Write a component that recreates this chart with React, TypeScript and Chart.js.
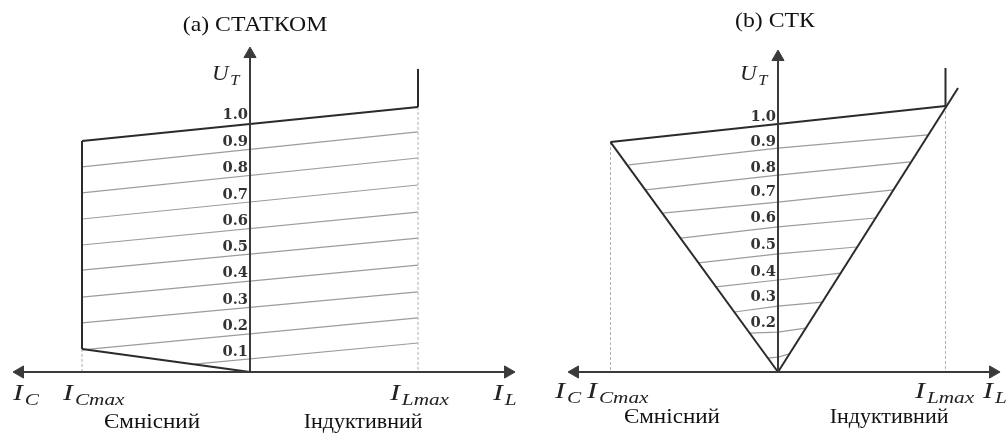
import React, { useEffect, useRef } from "react";
import { Chart, registerables } from "chart.js";

Chart.register(...registerables);

// ---------- Panel (a) СТАТКОМ ----------
const aTickLabels = ["1.0", "0.9", "0.8", "0.7", "0.6", "0.5", "0.4", "0.3", "0.2", "0.1"];
const aTickU = [1.036, 0.927, 0.823, 0.714, 0.609, 0.504, 0.399, 0.29, 0.185, 0.081];
const aTopLine = [{ x: -1, y: 0.931 }, { x: 1, y: 1.069 }];
const aUpperStub = [{ x: 1, y: 1.069 }, { x: 1, y: 1.222 }];
const aLeftEdge = [{ x: -1, y: 0.931 }, { x: -1, y: 0.093 }];
const aLowEdge = [{ x: -1, y: 0.093 }, { x: 0, y: 0 }];
const aDashLeft = [{ x: -1, y: 0.093 }, { x: -1, y: 0 }];
const aDashRight = [{ x: 1, y: 1.069 }, { x: 1, y: 0 }];
const aGridStartI = [-1, -1, -1, -1, -1, -1, -1, -1, -0.33];
const aGridStartU = [0.827, 0.722, 0.617, 0.512, 0.411, 0.302, 0.198, 0.089, 0.032];
const aGridEndI = [1, 1, 1, 1, 1, 1, 1, 1, 1];
const aGridEndU = [0.968, 0.863, 0.754, 0.645, 0.54, 0.431, 0.323, 0.218, 0.117];
const aXAxis = [{ x: -1.369, y: 0 }, { x: 1.536, y: 0 }];
const aYAxis = [{ x: 0, y: 0 }, { x: 0, y: 1.282 }];

// ---------- Panel (b) СТК ----------
const bTickLabels = ["1.0", "0.9", "0.8", "0.7", "0.6", "0.5", "0.4", "0.3", "0.2"];
const bTickU = [1.028, 0.927, 0.823, 0.726, 0.621, 0.512, 0.403, 0.302, 0.198];
const bTopLine = [{ x: -1, y: 0.927 }, { x: 1, y: 1.073 }];
const bUpperStub = [{ x: 1, y: 1.073 }, { x: 1, y: 1.226 }];
const bVLeft = [{ x: -1, y: 0.927 }, { x: 0, y: 0 }];
const bVRight = [{ x: 0, y: 0 }, { x: 1.075, y: 1.145 }];
const bDashLeft = [{ x: -1, y: 0.927 }, { x: -1, y: 0 }];
const bDashRight = [{ x: 1, y: 1.073 }, { x: 1, y: 0 }];
const bGridLeftI = [-0.89, -0.79, -0.69, -0.58, -0.475, -0.37, -0.26, -0.17, -0.06];
const bGridLeftU = [0.835, 0.734, 0.641, 0.54, 0.44, 0.343, 0.242, 0.157, 0.056];
const bGridAxisU = [0.903, 0.794, 0.685, 0.585, 0.476, 0.371, 0.266, 0.161, 0.06];
const bGridRightI = [0.895, 0.79, 0.69, 0.58, 0.47, 0.375, 0.265, 0.165, 0.068];
const bGridRightU = [0.956, 0.847, 0.734, 0.621, 0.504, 0.399, 0.282, 0.177, 0.073];
const bXAxis = [{ x: -1.212, y: 0 }, { x: 1.284, y: 0 }];
const bYAxis = [{ x: 0, y: 0 }, { x: 0, y: 1.27 }];

const DARK = "#2b2b2b";
const AXIS = "#3a3a3a";
const GRID = "#9c9c9c";
const DASH = "#b0b0b0";
const SERIF = "'Liberation Serif', 'DejaVu Serif', serif";

type Item =
  | { kind: "text"; text: string; x: number; y: number; font: string; align: CanvasTextAlign; sx?: number; color?: string }
  | { kind: "math"; main: string; sub: string; x: number; y: number; size: number; subSize: number; sx?: number };

function line(data: any[], color: string, width: number, dash: number[] = []) {
  return {
    data,
    showLine: true,
    borderColor: color,
    borderWidth: width,
    borderDash: dash,
    pointRadius: 0,
    fill: false,
    tension: 0,
  };
}

function arrowAxis(data: any[], rotations: number[], radii: number[]) {
  return {
    data,
    showLine: true,
    borderColor: AXIS,
    borderWidth: 2,
    pointStyle: "triangle",
    pointRadius: radii,
    pointRotation: rotations,
    pointBackgroundColor: AXIS,
    pointBorderColor: AXIS,
    pointBorderWidth: 1,
    fill: false,
  };
}

function textPlugin(items: Item[]) {
  return {
    id: "panelText",
    afterDatasetsDraw(chart: any) {
      const { ctx } = chart;
      const xs = chart.scales.x;
      const ys = chart.scales.y;
      ctx.save();
      for (const it of items) {
        const px = xs.getPixelForValue(it.x);
        const py = ys.getPixelForValue(it.y);
        if (it.kind === "text") {
          ctx.font = it.font;
          ctx.fillStyle = it.color || "#111";
          ctx.textAlign = it.align;
          ctx.textBaseline = "middle";
          ctx.save();
          ctx.translate(px, py);
          ctx.scale(it.sx || 1, 1);
          ctx.fillText(it.text, 0, 0);
          ctx.restore();
        } else {
          const sx = it.sx || 1;
          ctx.fillStyle = "#222";
          ctx.textAlign = "left";
          ctx.textBaseline = "alphabetic";
          ctx.save();
          ctx.translate(px, py);
          ctx.scale(sx, 1);
          ctx.font = `italic ${it.size}px ${SERIF}`;
          ctx.fillText(it.main, 0, 0);
          const w = ctx.measureText(it.main).width;
          ctx.font = `italic ${it.subSize}px ${SERIF}`;
          ctx.fillText(it.sub, w + 1.5, it.size * 0.22);
          ctx.restore();
        }
      }
      ctx.restore();
    },
  };
}

function tickItems(labels: string[], us: number[]): Item[] {
  return labels.map((t, i) => ({
    kind: "text" as const,
    text: t,
    x: -0.012,
    y: us[i],
    font: `bold 14px 'DejaVu Serif', serif`,
    align: "right" as CanvasTextAlign,
    sx: 1.05,
    color: "#333",
  }));
}

const aDatasets = [
  arrowAxis(aXAxis, [-90, 90], [7, 7]),
  arrowAxis(aYAxis, [0, 0], [0, 7]),
  line(aTopLine, DARK, 2),
  line(aUpperStub, DARK, 2),
  line(aLeftEdge, DARK, 2),
  line(aLowEdge, DARK, 2),
  line(aDashLeft, DASH, 1, [3, 2]),
  line(aDashRight, DASH, 1, [3, 2]),
  ...aGridStartI.map((_, i) =>
    line(
      [
        { x: aGridStartI[i], y: aGridStartU[i] },
        { x: aGridEndI[i], y: aGridEndU[i] },
      ],
      GRID,
      1.2
    )
  ),
];

const bDatasets = [
  arrowAxis(bXAxis, [-90, 90], [7, 7]),
  arrowAxis(bYAxis, [0, 0], [0, 7]),
  line(bTopLine, DARK, 2),
  line(bUpperStub, DARK, 2),
  line(bVLeft, DARK, 2),
  line(bVRight, DARK, 2),
  line(bDashLeft, DASH, 1, [3, 2]),
  line(bDashRight, DASH, 1, [3, 2]),
  ...bGridLeftI.map((_, i) =>
    line(
      [
        { x: bGridLeftI[i], y: bGridLeftU[i] },
        { x: 0, y: bGridAxisU[i] },
        { x: bGridRightI[i], y: bGridRightU[i] },
      ],
      GRID,
      1.2
    )
  ),
];

const aItems: Item[] = [
  { kind: "text", text: "(a) СТАТКОМ", x: 0.03, y: 1.399, font: `22px ${SERIF}`, align: "center", sx: 1.08 },
  { kind: "math", main: "U", sub: "T", x: -0.226, y: 1.177, size: 21, subSize: 15, sx: 1.1 },
  { kind: "math", main: "I", sub: "C", x: -1.411, y: -0.113, size: 24, subSize: 17, sx: 1.25 },
  { kind: "math", main: "I", sub: "Cmax", x: -1.113, y: -0.113, size: 24, subSize: 17, sx: 1.25 },
  { kind: "math", main: "I", sub: "Lmax", x: 0.833, y: -0.113, size: 24, subSize: 17, sx: 1.25 },
  { kind: "math", main: "I", sub: "L", x: 1.446, y: -0.113, size: 24, subSize: 17, sx: 1.25 },
  { kind: "text", text: "Ємнісний", x: -0.583, y: -0.202, font: `22px ${SERIF}`, align: "center", sx: 1.05 },
  { kind: "text", text: "Індуктивний", x: 0.673, y: -0.202, font: `22px ${SERIF}`, align: "center", sx: 1.0 },
  ...tickItems(aTickLabels, aTickU),
];

const bItems: Item[] = [
  { kind: "text", text: "(b) СТК", x: -0.018, y: 1.413, font: `22px ${SERIF}`, align: "center", sx: 1.08 },
  { kind: "math", main: "U", sub: "T", x: -0.227, y: 1.177, size: 21, subSize: 15, sx: 1.1 },
  { kind: "math", main: "I", sub: "C", x: -1.331, y: -0.105, size: 24, subSize: 17, sx: 1.25 },
  { kind: "math", main: "I", sub: "Cmax", x: -1.14, y: -0.105, size: 24, subSize: 17, sx: 1.25 },
  { kind: "math", main: "I", sub: "Lmax", x: 0.818, y: -0.105, size: 24, subSize: 17, sx: 1.25 },
  { kind: "math", main: "I", sub: "L", x: 1.224, y: -0.105, size: 24, subSize: 17, sx: 1.25 },
  { kind: "text", text: "Ємнісний", x: -0.633, y: -0.181, font: `22px ${SERIF}`, align: "center", sx: 1.05 },
  { kind: "text", text: "Індуктивний", x: 0.663, y: -0.181, font: `22px ${SERIF}`, align: "center", sx: 1.0 },
  ...tickItems(bTickLabels, bTickU),
];

function Panel(props: {
  datasets: any[];
  items: Item[];
  left: number;
  width: number;
  xMin: number;
  xMax: number;
}) {
  const ref = useRef<HTMLCanvasElement>(null);
  useEffect(() => {
    const chart = new Chart(ref.current as HTMLCanvasElement, {
      type: "scatter",
      data: { datasets: props.datasets as any },
      options: {
        animation: false,
        responsive: false,
        devicePixelRatio: 1,
        events: [],
        layout: { padding: 0, autoPadding: false },
        plugins: { legend: { display: false }, tooltip: { enabled: false } },
        scales: {
          x: { type: "linear", min: props.xMin, max: props.xMax, display: false },
          y: { type: "linear", min: -0.25, max: 1.5, display: false },
        },
      },
      plugins: [textPlugin(props.items) as any],
    });
    return () => chart.destroy();
  }, []);
  return (
    <canvas
      ref={ref}
      width={props.width}
      height={434}
      style={{ position: "absolute", left: props.left, top: 0, width: props.width, height: 434 }}
    />
  );
}

export default function App() {
  return (
    <div style={{ position: "fixed", left: 0, top: 0, width: 1007, height: 434, background: "#fff", overflow: "hidden" }}>
      <Panel datasets={aDatasets} items={aItems} left={0} width={520} xMin={-1.4881} xMax={1.6071} />
      <Panel datasets={bDatasets} items={bItems} left={520} width={487} xMin={-1.5403} xMax={1.3672} />
    </div>
  );
}
